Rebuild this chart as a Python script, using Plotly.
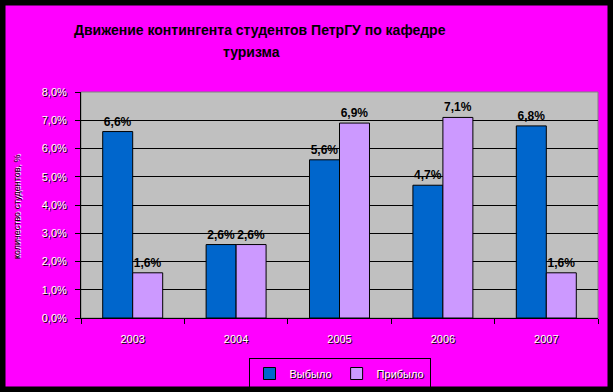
import plotly.graph_objects as go

years = ["2003", "2004", "2005", "2006", "2007"]
left_share = [0.066, 0.026, 0.056, 0.047, 0.068]    # Выбыло
arrived_share = [0.016, 0.026, 0.069, 0.071, 0.016]  # Прибыло
series_names = ["Выбыло", "Прибыло"]
title_lines = ["Движение контингента студентов ПетрГУ по кафедре", "туризма"]
y_title = "количество студентов, %"

W, H = 613, 392
L, R, T, B = 81, 15, 92, 74
pw, ph = W - L - R, H - T - B

def px(x):
    return (x - L) / pw

def py(y):
    return (H - B - y) / ph

FONT = "Liberation Sans, Arial, sans-serif"
SHADOW = "1px 1px 0px black"

fig = go.Figure()
for name, vals, color in [(series_names[0], left_share, "#0066CC"),
                          (series_names[1], arrived_share, "#CC99FF")]:
    fig.add_trace(go.Bar(
        x=years, y=vals, name=name,
        marker=dict(color=color, line=dict(color="black", width=1)),
        texttemplate="%{y:.1%}", textposition="outside", constraintext="none",
        cliponaxis=False,
        textfont=dict(family=FONT, size=12, color="black", weight="bold", shadow="none"),
    ))

shapes = [
    dict(type="rect", xref="paper", yref="paper",
         x0=px(0), x1=px(W), y0=py(H), y1=py(0),
         line=dict(color="black", width=11), fillcolor="rgba(0,0,0,0)", layer="below"),
    dict(type="rect", xref="paper", yref="paper", x0=0, x1=1, y0=0, y1=1,
         line=dict(color="#808080", width=1), fillcolor="rgba(0,0,0,0)", layer="below"),
]

annotations = [
    dict(text=title_lines[0], xref="paper", yref="paper", x=px(260), y=py(30),
         xanchor="center", yanchor="middle", showarrow=False,
         font=dict(family=FONT, size=14, color="black", weight="bold", shadow="none")),
    dict(text=title_lines[1], xref="paper", yref="paper", x=px(251), y=py(52),
         xanchor="center", yanchor="middle", showarrow=False,
         font=dict(family=FONT, size=14, color="black", weight="bold", shadow="none")),
    dict(text=y_title, xref="paper", yref="paper", x=px(17), y=py(207),
         xanchor="center", yanchor="middle", showarrow=False, textangle=-90,
         font=dict(family=FONT, size=9, color="black", shadow="1px 1px 0px white")),
]

fig.update_layout(
    width=W, height=H,
    margin=dict(l=L, r=R, t=T, b=B, pad=0, autoexpand=False),
    paper_bgcolor="#FF00FF",
    plot_bgcolor="#C0C0C0",
    separators=", ",
    barmode="group", bargap=0.42, bargroupgap=0,
    font=dict(family=FONT, size=11, color="white", shadow=SHADOW),
    shapes=shapes,
    annotations=annotations,
    showlegend=True,
    legend=dict(orientation="h", xref="container", yref="container",
                x=339.5 / W, xanchor="center", y=(H - 358) / H, yanchor="top",
                bgcolor="rgba(0,0,0,0)", bordercolor="black", borderwidth=1,
                font=dict(family=FONT, size=11, color="white", shadow=SHADOW),
                itemwidth=30, tracegroupgap=0, traceorder="normal"),
    xaxis=dict(type="category", showgrid=False, showline=True, linecolor="black",
               linewidth=1, ticks="outside", tickson="boundaries", ticklen=5,
               tickcolor="black", ticklabelstandoff=11,
               tickfont=dict(family=FONT, size=11, color="white", shadow=SHADOW)),
    yaxis=dict(range=[0, 0.08], dtick=0.01, tickformat=".1%", showgrid=True,
               gridcolor="black", gridwidth=1, showline=True, linecolor="black",
               linewidth=1, ticks="outside", ticklen=5, tickcolor="black",
               zeroline=False, ticklabelstandoff=6,
               tickfont=dict(family=FONT, size=11, color="white", shadow=SHADOW)),
)

fig.write_html("out.html",
               config={"displayModeBar": False},
               post_script="document.body.style.margin='0px';document.body.style.overflow='hidden';")
